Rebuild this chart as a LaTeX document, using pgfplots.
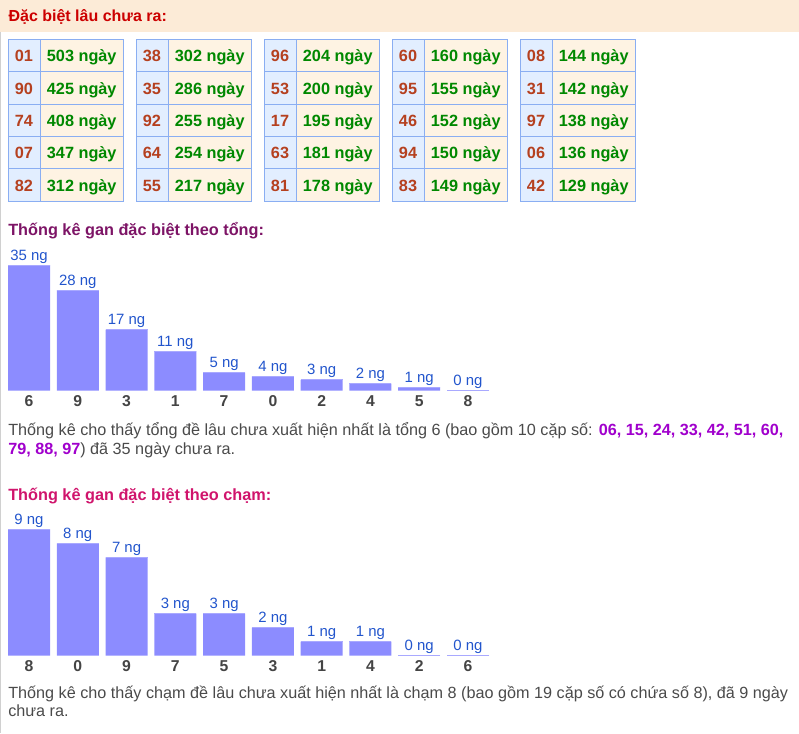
\documentclass[border=0pt]{standalone}
\usepackage{pgfplots}
\pgfplotsset{compat=1.18}
\usepackage{pgfplotstable}
\usepackage{fontspec}
\setmainfont{Liberation Sans}

\definecolor{headbg}{HTML}{FCEBD7}
\definecolor{headred}{HTML}{CC0000}
\definecolor{cellblue}{HTML}{E2EEFF}
\definecolor{cellcream}{HTML}{FEF3E3}
\definecolor{cellline}{HTML}{8AAEF2}
\definecolor{numred}{HTML}{B5401F}
\definecolor{daygreen}{HTML}{008800}
\definecolor{titlea}{HTML}{7D1466}
\definecolor{titleb}{HTML}{D0146C}
\definecolor{barfill}{HTML}{8C8CFF}
\definecolor{bartop}{HTML}{A9A9FF}
\definecolor{vallab}{HTML}{2255CC}
\definecolor{catlab}{HTML}{444444}
\definecolor{bodytext}{HTML}{4A4A4A}
\definecolor{pairs}{HTML}{A000CC}
\definecolor{frame}{HTML}{D0D0D0}

% gan theo tong
\pgfplotstableread{
x y
0 35
1 28
2 17
3 11
4 5
5 4
6 3
7 2
8 1
9 0
}\tongdata

% gan theo cham
\pgfplotstableread{
x y
0 9
1 8
2 7
3 3
4 3
5 2
6 1
7 1
8 0
9 0
}\chamdata

\pgfplotsset{
  ganbars/.style={
    scale only axis,
    width=365.85pt,
    xmin=-0.5, xmax=9.5, ymin=0,
    anchor=south west,
    clip=false,
    axis line style={draw=none},
    ytick=\empty,
    xtick=data,
    major tick length=0pt,
    xticklabel style={font=\fontsize{11.8}{13}\selectfont\bfseries, text=catlab,
        anchor=base, inner sep=0pt, yshift=-11.8pt},
    /pgf/number format/assume math mode=true,
  },
  gbar/.style={ybar, bar width=31.5pt, bar shift=0pt, fill=barfill, draw=none,
    nodes near coords={\pgfmathprintnumber{\pgfplotspointmeta} ng},
    every node near coord/.append style={font=\fontsize{11.2}{13}\selectfont,
        text=vallab, anchor=base, inner sep=0pt, yshift=3.75pt}},
  gtop/.style={only marks, mark=-, mark size=15.75pt,
    mark options={draw=bartop, line width=0.75pt}},
}

\begin{document}
\begin{tikzpicture}
\begin{scope}[x=0.75pt, y=-0.75pt]
  \path (0,0) rectangle (799,733);
  % header
  \fill[headbg] (0,0) rectangle (799,31.7);
  \draw[frame, line width=0.75pt] (0.8,31.7) -- (0.8,733);
  \node[anchor=base west, inner sep=0pt, text=headred,
        font=\fontsize{12}{14}\selectfont\bfseries] at (8.3,21.7) {Đặc biệt lâu chưa ra:};

  % five small tables: table/row/number/days
  \foreach \t/\r/\n/\d in {
      0/0/01/503, 0/1/90/425, 0/2/74/408, 0/3/07/347, 0/4/82/312,
      1/0/38/302, 1/1/35/286, 1/2/92/255, 1/3/64/254, 1/4/55/217,
      2/0/96/204, 2/1/53/200, 2/2/17/195, 2/3/63/181, 2/4/81/178,
      3/0/60/160, 3/1/95/155, 3/2/46/152, 3/3/94/150, 3/4/83/149,
      4/0/08/144, 4/1/31/142, 4/2/97/138, 4/3/06/136, 4/4/42/129} {
    \pgfmathsetmacro\xa{8+128*\t}
    \pgfmathsetmacro\xb{\xa+32}
    \pgfmathsetmacro\xc{\xa+115.5}
    \pgfmathsetmacro\ya{39.3+32.35*\r}
    \pgfmathsetmacro\yb{\ya+32.35}
    \pgfmathsetmacro\yt{\ya+16.2+6.2}
    \filldraw[fill=cellblue, draw=cellline, line width=0.75pt] (\xa,\ya) rectangle (\xb,\yb);
    \filldraw[fill=cellcream, draw=cellline, line width=0.75pt] (\xb,\ya) rectangle (\xc,\yb);
    \node[anchor=base, inner sep=0pt, text=numred, font=\fontsize{12.2}{14}\selectfont\bfseries]
      at ({(\xa+\xb)/2},\yt) {\n};
    \node[anchor=base, inner sep=0pt, text=daygreen, font=\fontsize{12.2}{14}\selectfont\bfseries]
      at ({(\xb+\xc)/2},\yt) {\d\ ngày};
  }

  % titles
  \node[anchor=base west, inner sep=0pt, text=titlea, font=\fontsize{12.2}{14}\selectfont\bfseries]
    at (8,235.7) {Thống kê gan đặc biệt theo tổng:};
  \node[anchor=base west, inner sep=0pt, text=titleb, font=\fontsize{12.2}{14}\selectfont\bfseries]
    at (8,500) {Thống kê gan đặc biệt theo chạm:};

  % paragraphs
  \begin{scope}[every node/.style={anchor=base west, inner sep=0pt, text=bodytext,
        font=\fontsize{12.15}{14}\selectfont}]
    \node at (8,435.7) {Thống kê cho thấy tổng đề lâu chưa xuất hiện nhất là tổng 6 (bao gồm 10 cặp số: \textcolor{pairs}{\bfseries 06, 15, 24, 33, 42, 51, 60,}};
    \node at (8,454.3) {\textcolor{pairs}{\bfseries 79, 88, 97}) đã 35 ngày chưa ra.};
    \node at (8,698.3) {Thống kê cho thấy chạm đề lâu chưa xuất hiện nhất là chạm 8 (bao gồm 19 cặp số có chứa số 8), đã 9 ngày};
    \node at (8,716) {chưa ra.};
  \end{scope}
\end{scope}

\begin{axis}[ganbars, at={(3.4575pt,-293.025pt)}, height=94.275pt, ymax=35,
    xticklabels={6,9,3,1,7,0,2,4,5,8}]
  \addplot[gbar] table[x=x, y=y] {\tongdata};
  \addplot[gtop] table[x=x, y=y] {\tongdata};
\end{axis}

\begin{axis}[ganbars, at={(3.4575pt,-491.775pt)}, height=94.8pt, ymax=9,
    xticklabels={8,0,9,7,5,3,1,4,2,6}]
  \addplot[gbar] table[x=x, y=y] {\chamdata};
  \addplot[gtop] table[x=x, y=y] {\chamdata};
\end{axis}
\end{tikzpicture}
\end{document}
